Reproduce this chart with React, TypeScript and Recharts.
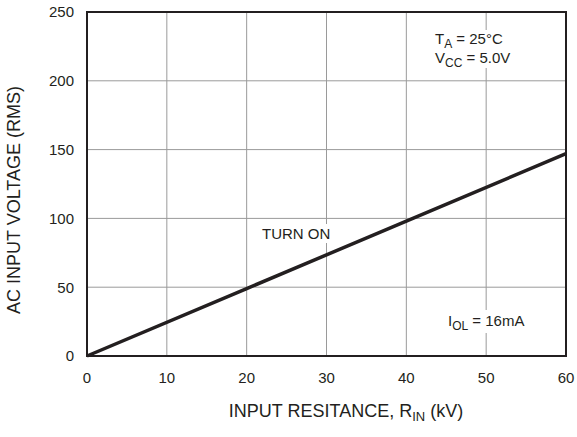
import React from "react";
import {
  LineChart,
  Line,
  XAxis,
  YAxis,
  CartesianGrid,
  ReferenceArea
} from "recharts";

const resistance = [0, 20, 40, 60];
const turnOnVoltage = [0, 49, 98, 147];
const xTicks = [0, 10, 20, 30, 40, 50, 60];
const yTicks = [0, 50, 100, 150, 200, 250];

const data = resistance.map((r, i) => ({ r, v: turnOnVoltage[i] }));

const font = "'Liberation Sans', Arial, Helvetica, sans-serif";
const ink = "#231f20";

const Sub = ({ children }: { children: React.ReactNode }) => (
  <span style={{ fontSize: 12, position: "relative", top: 4 }}>{children}</span>
);

const note: React.CSSProperties = {
  position: "absolute",
  fontFamily: font,
  fontSize: 15,
  color: ink,
  background: "#fff",
  lineHeight: "17px",
  whiteSpace: "nowrap"
};

export default function App() {
  return (
    <div style={{ position: "absolute", left: 0, top: 0, width: 577, height: 437, background: "#fff" }}>
      <LineChart
        width={577}
        height={437}
        data={data}
        margin={{ top: 12, right: 11, bottom: 0, left: 0 }}
        style={{ fontFamily: font }}
      >
        <CartesianGrid stroke="#9a9a9a" strokeWidth={1} />
        <XAxis
          dataKey="r"
          type="number"
          domain={[0, 60]}
          ticks={xTicks}
          height={81}
          tickLine={false}
          axisLine={false}
          tickMargin={10}
          tick={{ fill: ink, fontSize: 15 }}
          label={{
            position: "insideBottom",
            content: () => (
              <text x={346} y={417} textAnchor="middle" fill={ink} fontSize={18} fontFamily={font}>
                INPUT RESITANCE, R
                <tspan fontSize={13} dy={4}>IN</tspan>
                <tspan dy={-4}> (kV)</tspan>
              </text>
            )
          }}
        />
        <YAxis
          type="number"
          domain={[0, 250]}
          ticks={yTicks}
          width={87}
          tickLine={false}
          axisLine={false}
          tickMargin={7}
          tick={{ fill: ink, fontSize: 15 }}
          label={{
            position: "insideLeft",
            content: () => (
              <text
                x={20}
                y={200}
                textAnchor="middle"
                fill={ink}
                fontSize={18}
                fontFamily={font}
                transform="rotate(-90 20 200)"
              >
                AC INPUT VOLTAGE (RMS)
              </text>
            )
          }}
        />
        <ReferenceArea x1={0} x2={60} y1={0} y2={250} fill="none" stroke={ink} strokeWidth={2} ifOverflow="visible" />
        <Line
          type="linear"
          dataKey="v"
          stroke={ink}
          strokeWidth={3.5}
          dot={false}
          isAnimationActive={false}
        />
      </LineChart>
      <div style={{ ...note, left: 433, top: 30, padding: "0 2px" }}>
        <div>
          T<Sub>A</Sub> = 25°C
        </div>
        <div>
          V<Sub>CC</Sub> = 5.0V
        </div>
      </div>
      <div style={{ ...note, left: 261, top: 224, padding: "1px 1px" }}>TURN ON</div>
      <div style={{ ...note, left: 447, top: 310, padding: "2px 1px" }}>
        I<Sub>OL</Sub> = 16mA
      </div>
    </div>
  );
}
